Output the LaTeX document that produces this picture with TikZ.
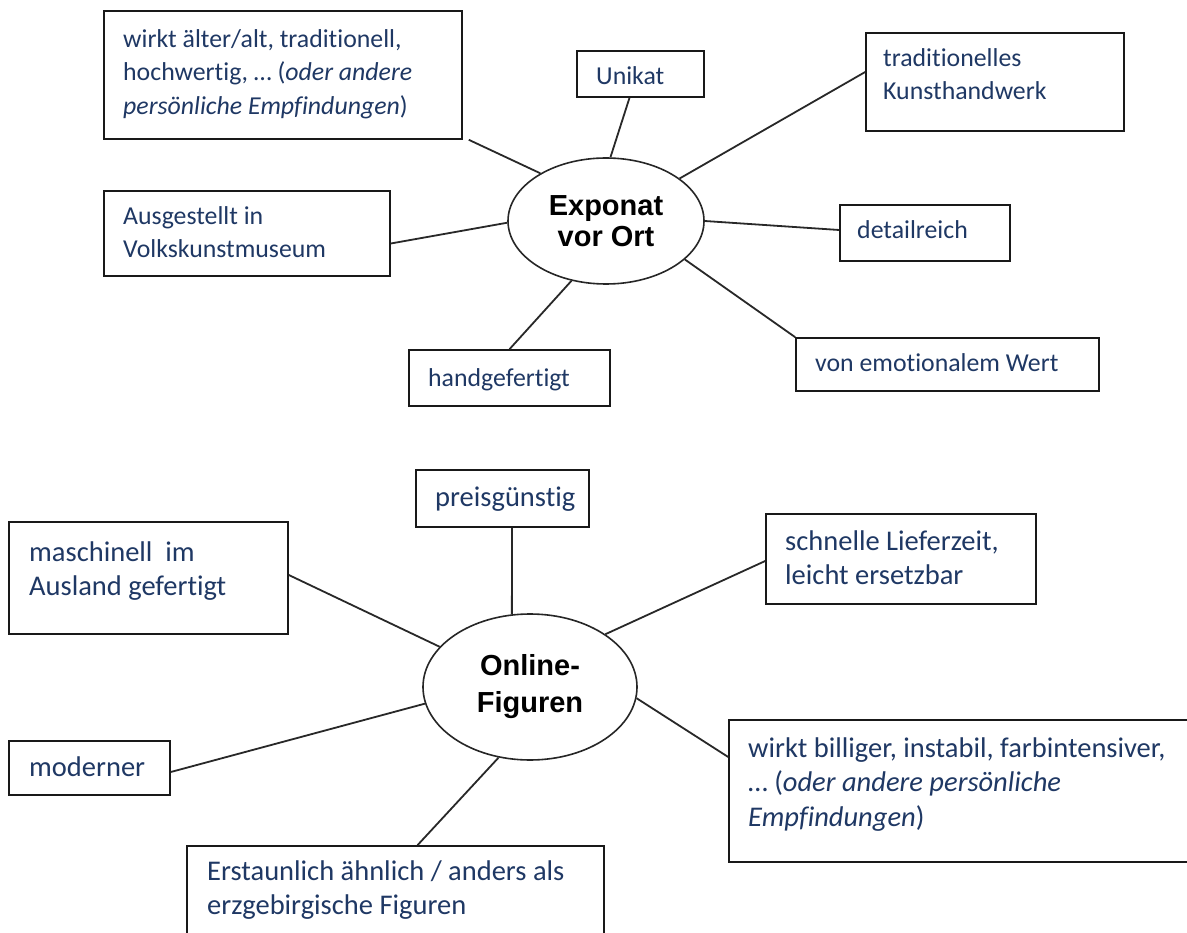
\documentclass[tikz,border=0pt]{standalone}
\usepackage{fontspec}
\setmainfont{Carlito}[Ligatures={NoCommon}]
\newfontfamily\ellfont{Liberation Sans}
\usetikzlibrary{shapes.geometric,fit}
\definecolor{txtblue}{RGB}{31,56,100}
\definecolor{linegray}{RGB}{40,40,40}
\tikzset{
  box/.style={draw=black!90, line width=1.6pt, inner sep=0pt, fill=white},
  lbl/.style={anchor=north west, inner sep=0pt, align=left, text=txtblue,
    font=\fontsize{25.8}{33.5}\selectfont},
  lblb/.style={lbl, font=\fontsize{28.5}{34.5}\selectfont},
  ell/.style={ellipse, draw=black!85, line width=1.6pt, inner sep=0pt, align=center},
  con/.style={draw=linegray, line width=1.8pt}
}
\newcommand\bx[5]{\path (#2,#3) coordinate (#1-a) (#4,#5) coordinate (#1-b);
  \node[box, fit=(#1-a)(#1-b)] (#1) {};}
\newcommand\tx[4]{\node[lbl] (#1) at (#2,#3-24) {\rule{0pt}{24pt}#4};}
\newcommand\txb[4]{\node[lblb] (#1) at (#2,#3-24) {\rule{0pt}{24pt}#4};}
\begin{document}
\begin{tikzpicture}[x=1pt,y=-1pt]
\useasboundingbox (0,0) rectangle (1187,933);
\fill[white] (0,0) rectangle (1187,933);
% upper ellipse
\node[ell, minimum width=196pt, minimum height=126pt, font=\ellfont\bfseries\fontsize{29}{31.5}\selectfont] (E1) at (606,221) {Exponat\\vor Ort};
% lower ellipse
\node[ell, minimum width=214pt, minimum height=146pt, font=\ellfont\bfseries\fontsize{29}{37}\selectfont] (E2) at (530,687) {Online-\\Figuren};
% boxes upper
\bx{w}{104}{11}{462}{139}
\bx{u}{577}{51}{704}{97}
\bx{t}{866}{33}{1124}{131}
\bx{a}{104}{191}{390}{276}
\bx{d}{840}{205}{1010}{261}
\bx{h}{409}{350}{610}{406}
\bx{e}{796}{338}{1099}{391}
% boxes lower
\bx{p}{416}{470}{589}{527}
\bx{m}{9}{522}{288}{634}
\bx{s}{766}{514}{1036}{604}
\bx{mo}{9}{741}{170}{795}
\bx{b}{729}{720}{1195}{862}
\bx{er}{187}{846}{604}{945}
% texts
\tx{tw}{123}{47}{wirkt älter/alt, traditionell,\\hochwertig, … (\textit{oder andere}\\\textit{persönliche Empfindungen})}
\tx{tu}{596}{84}{Unikat}
\tx{tt}{883}{66}{traditionelles\\Kunsthandwerk}
\tx{ta}{123}{224}{Ausgestellt in\\Volkskunstmuseum}
\tx{td}{857}{238}{detailreich}
\tx{th}{428}{386}{handgefertigt}
\tx{te}{815}{371}{von emotionalem Wert}
\txb{tp}{435}{506}{preisgünstig}
\txb{tm}{29}{561}{maschinell\ \ im\\Ausland gefertigt}
\txb{ts}{785}{550}{schnelle Lieferzeit,\\leicht ersetzbar}
\txb{tmo}{29}{776}{moderner}
\txb{tb}{748}{757}{wirkt billiger, instabil, farbintensiver,\\… (\textit{oder andere persönliche}\\\textit{Empfindungen})}
\txb{ter}{207}{880}{Erstaunlich ähnlich / anders als\\erzgebirgische Figuren}
% connectors upper
\draw[con] ([xshift=6pt]w.south east) -- (E1.144);
\draw[con] ([xshift=-11pt]u.south) -- (E1.86);
\draw[con] ([yshift=10pt]t.west) -- (E1.30);
\draw[con] ([yshift=-10pt]a.east) -- (E1.181);
\draw[con] ([yshift=3pt]d.west) -- (E1.0);
\draw[con] (h.north) -- (E1.240);
\draw[con] (e.north west) -- (E1.334);
% connectors lower
\draw[con] ([yshift=3pt]m.east) -- (E2.156);
\draw[con] ([xshift=9.5pt]p.south) -- (E2.104);
\draw[con] ([yshift=-2pt]s.west) -- (E2.35);
\draw[con] ([yshift=-4pt]mo.east) -- (E2.189);
\draw[con] ([yshift=34pt]b.west) -- (E2.354);
\draw[con] ([xshift=22pt]er.north) -- (E2.246);
\end{tikzpicture}
\end{document}
